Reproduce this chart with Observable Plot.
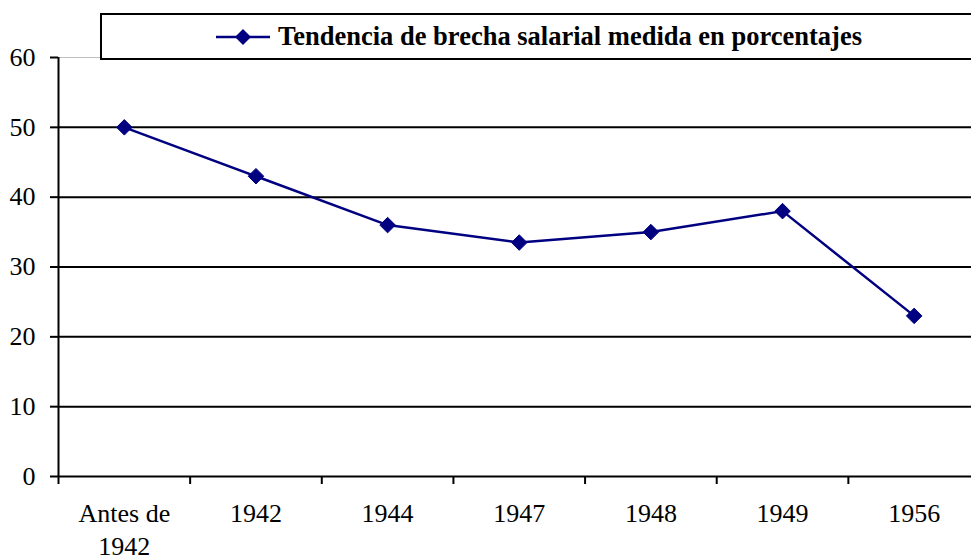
<!DOCTYPE html>
<html>
<head>
<meta charset="utf-8">
<script src="https://cdn.jsdelivr.net/npm/d3@7"></script>
<script src="https://cdn.jsdelivr.net/npm/@observablehq/plot@0.6"></script>
<style>
  html, body { margin: 0; padding: 0; background: #fff; overflow: hidden; }
  #wrap { position: relative; width: 971px; height: 560px; overflow: hidden; }
  #wrap svg, #wrap svg text { font-family: "Liberation Serif", "Times New Roman", serif; }
  #legend {
    position: absolute; left: 100px; top: 13px; width: 900px; height: 43px;
    border: 2px solid #000; background: #fff; box-sizing: content-box;
    font-family: "Liberation Serif", "Times New Roman", serif; font-weight: bold; font-size: 26.5px;
    display: flex; align-items: center;
  }
  #legend svg { margin-left: 114px; margin-right: 8px; }
</style>
</head>
<body>
<div id="wrap"></div>
<script>
const categories = ["Antes de\n1942", "1942", "1944", "1947", "1948", "1949", "1956"];
const values = [50, 43, 36, 33.5, 35, 38, 23];
const seriesName = "Tendencia de brecha salarial medida en porcentajes";
const yTicks = [0, 10, 20, 30, 40, 50, 60];
const lineColor = "#000080";
const serif = "'Liberation Serif', 'Times New Roman', serif";

const data = categories.map((c, i) => ({cat: c, pos: i + 0.5, value: values[i]}));
const boundaries = d3.range(categories.length + 1);

const chart = Plot.plot({
  width: 971,
  height: 560,
  marginTop: 57,
  marginBottom: 84,
  marginLeft: 58,
  marginRight: 0,
  style: {fontFamily: serif, fontSize: "26px", color: "#000", background: "#fff"},
  x: {domain: [0, categories.length], range: [58, 979.5], axis: null},
  y: {domain: [0, 60], axis: null},
  marks: [
    Plot.ruleY([60], {stroke: "#c0c0c0", strokeWidth: 1}),
    Plot.ruleY(yTicks.filter(t => t > 0 && t < 60), {stroke: "#000", strokeWidth: 2}),
    Plot.ruleY([0], {stroke: "#000", strokeWidth: 2}),
    Plot.ruleX([0], {y1: 0, y2: 60, stroke: "#000", strokeWidth: 2}),
    Plot.axisY({ticks: yTicks, label: null, tickSize: 8, tickPadding: 15, fontSize: 26, fontFamily: serif, stroke: "#000", strokeWidth: 2, fill: "#000", tickFormat: d => String(d)}),
    Plot.axisX({ticks: boundaries, label: null, tickSize: 8, tickFormat: () => "", stroke: "#000", strokeWidth: 2}),
    Plot.axisX({ticks: data.map(d => d.pos), label: null, tickSize: 0, tickPadding: 22, fontSize: 26, fontFamily: serif, lineHeight: 1.28, fill: "#000",
      tickFormat: p => categories[Math.floor(p)]}),
    Plot.line(data, {x: "pos", y: "value", stroke: lineColor, strokeWidth: 2.5}),
    Plot.dot(data, {x: "pos", y: "value", symbol: "diamond2", r: 7, fill: lineColor, stroke: lineColor, strokeWidth: 1})
  ]
});

const wrap = document.getElementById("wrap");
wrap.appendChild(chart);

const legend = document.createElement("div");
legend.id = "legend";
legend.innerHTML = `<svg width="54" height="20" viewBox="0 0 54 20"><line x1="0" y1="10" x2="54" y2="10" stroke="${lineColor}" stroke-width="2.5"/><path d="M27,2 L35,10 L27,18 L19,10 Z" fill="${lineColor}"/></svg><span>${seriesName}</span>`;
wrap.appendChild(legend);
</script>
</body>
</html>
